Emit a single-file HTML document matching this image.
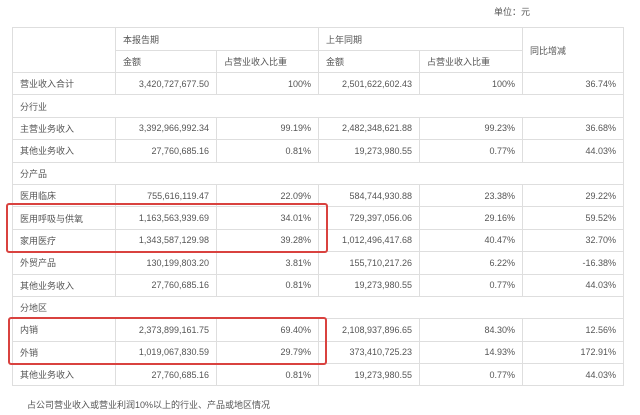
<!DOCTYPE html>
<html><head><meta charset="utf-8"><style>
html,body{margin:0;padding:0;background:#fff;width:640px;height:415px;overflow:hidden;position:relative}
body{font-family:"Liberation Sans","Noto Sans CJK SC",sans-serif;font-size:9px;color:#555}
table{position:absolute;left:12px;top:27px;width:611px;border-collapse:collapse;table-layout:fixed}
td{border:1px solid #dedede;padding:0 7px;height:21px;white-space:nowrap;overflow:hidden}
td.r{text-align:right}
tr.b td{height:21.4px}
.box{position:absolute;border:2px solid #d9423f;border-radius:3px}
</style></head><body>
<div style="position:absolute;left:494px;top:5px;font-size:9px">单位：元</div>
<table>
<colgroup><col style="width:103px"><col style="width:101px"><col style="width:102px"><col style="width:101px"><col style="width:103px"><col style="width:101px"></colgroup>
<tr style="height:23px"><td rowspan="2"></td><td colspan="2">本报告期</td><td colspan="2">上年同期</td><td rowspan="2">同比增减</td></tr>
<tr style="height:22px"><td>金额</td><td>占营业收入比重</td><td>金额</td><td>占营业收入比重</td></tr>
<tr class="b"><td>营业收入合计</td><td class="r">3,420,727,677.50</td><td class="r">100%</td><td class="r">2,501,622,602.43</td><td class="r">100%</td><td class="r">36.74%</td></tr>
<tr class="b"><td colspan="6">分行业</td></tr>
<tr class="b"><td>主营业务收入</td><td class="r">3,392,966,992.34</td><td class="r">99.19%</td><td class="r">2,482,348,621.88</td><td class="r">99.23%</td><td class="r">36.68%</td></tr>
<tr class="b"><td>其他业务收入</td><td class="r">27,760,685.16</td><td class="r">0.81%</td><td class="r">19,273,980.55</td><td class="r">0.77%</td><td class="r">44.03%</td></tr>
<tr class="b"><td colspan="6">分产品</td></tr>
<tr class="b"><td>医用临床</td><td class="r">755,616,119.47</td><td class="r">22.09%</td><td class="r">584,744,930.88</td><td class="r">23.38%</td><td class="r">29.22%</td></tr>
<tr class="b"><td>医用呼吸与供氧</td><td class="r">1,163,563,939.69</td><td class="r">34.01%</td><td class="r">729,397,056.06</td><td class="r">29.16%</td><td class="r">59.52%</td></tr>
<tr class="b"><td>家用医疗</td><td class="r">1,343,587,129.98</td><td class="r">39.28%</td><td class="r">1,012,496,417.68</td><td class="r">40.47%</td><td class="r">32.70%</td></tr>
<tr class="b"><td>外贸产品</td><td class="r">130,199,803.20</td><td class="r">3.81%</td><td class="r">155,710,217.26</td><td class="r">6.22%</td><td class="r">-16.38%</td></tr>
<tr class="b"><td>其他业务收入</td><td class="r">27,760,685.16</td><td class="r">0.81%</td><td class="r">19,273,980.55</td><td class="r">0.77%</td><td class="r">44.03%</td></tr>
<tr class="b"><td colspan="6">分地区</td></tr>
<tr class="b"><td>内销</td><td class="r">2,373,899,161.75</td><td class="r">69.40%</td><td class="r">2,108,937,896.65</td><td class="r">84.30%</td><td class="r">12.56%</td></tr>
<tr class="b"><td>外销</td><td class="r">1,019,067,830.59</td><td class="r">29.79%</td><td class="r">373,410,725.23</td><td class="r">14.93%</td><td class="r">172.91%</td></tr>
<tr class="b"><td>其他业务收入</td><td class="r">27,760,685.16</td><td class="r">0.81%</td><td class="r">19,273,980.55</td><td class="r">0.77%</td><td class="r">44.03%</td></tr>
</table>
<div class="box" style="left:6px;top:203px;width:318px;height:46px"></div>
<div class="box" style="left:8px;top:317px;width:315px;height:44px"></div>
<div style="position:absolute;left:27px;top:398px;font-size:9px">占公司营业收入或营业利润10%以上的行业、产品或地区情况</div>
</body></html>
